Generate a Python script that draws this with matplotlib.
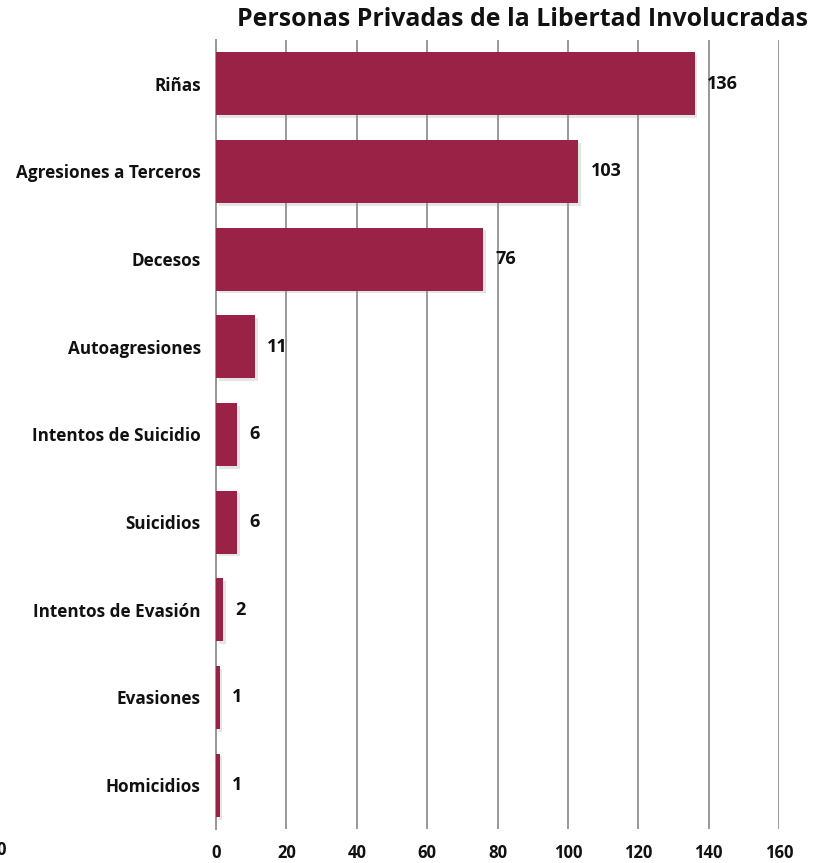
import matplotlib.pyplot as plt
import matplotlib.patheffects as pe

categories = ["Riñas", "Agresiones a Terceros", "Decesos", "Autoagresiones",
              "Intentos de Suicidio", "Suicidios", "Intentos de Evasión",
              "Evasiones", "Homicidios"]
values = [136, 103, 76, 11, 6, 6, 2, 1, 1]
ticks = [0, 20, 40, 60, 80, 100, 120, 140, 160]

plt.rcParams['font.family'] = ['Open Sans', 'DejaVu Sans']
bar_color = '#9B2247'

fig = plt.figure(figsize=(8.14, 8.63), dpi=100)
ax = fig.add_axes([0.2654, 0.0394, 0.6916, 0.9143])

pos = list(range(len(categories)))
bars = ax.barh(pos, values, height=0.72, color=bar_color, zorder=3)
for b in bars:
    b.set_path_effects([pe.SimplePatchShadow(offset=(2, -2), shadow_rgbFace='#999999', alpha=0.25),
                        pe.Normal()])

for p, v in zip(pos, values):
    ax.text(v + 3.5, p, str(v), va='center', ha='left',
            fontsize=13, fontweight='bold', color='#111111')

ax.set_ylim(len(categories) - 0.5, -0.5)
ax.set_yticks(pos)
ax.set_yticklabels(categories, fontsize=12.3, fontweight='bold', color='#111111')
ax.tick_params(axis='y', length=0, pad=11)

ax.set_xlim(0, 160)
ax.set_xticks(ticks)
ax.set_xticklabels([str(t) for t in ticks], fontsize=12, fontweight='bold', color='#111111')
ax.tick_params(axis='x', length=0, pad=11)

ax.grid(axis='x', color='#999999', linewidth=1.4, zorder=0)
for s in ['top', 'right', 'bottom']:
    ax.spines[s].set_visible(False)
ax.spines['left'].set_color('#999999')
ax.spines['left'].set_linewidth(1.4)

ax.set_title("Personas Privadas de la Libertad Involucradas", fontsize=17.9,
             fontweight='bold', color='#111111', loc='right', pad=10, x=1.0515)

fig.text(-0.004, 0.0151, "0", fontsize=12, fontweight='bold', color='#111111', va='center')

fig.savefig('out.png', dpi=100)
